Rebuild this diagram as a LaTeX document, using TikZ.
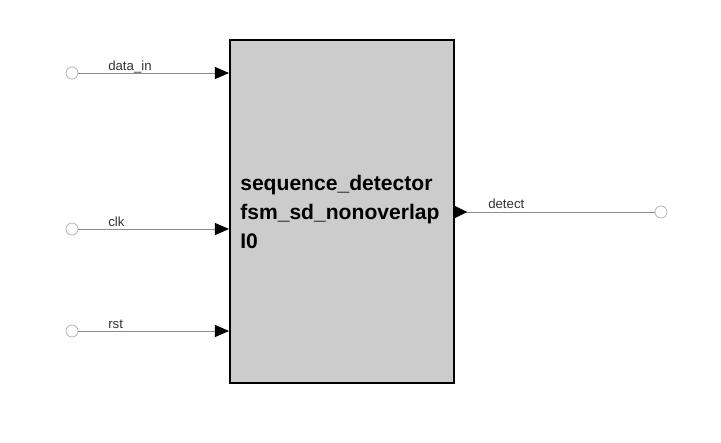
\documentclass[tikz,border=0pt]{standalone}
\usepackage{fontspec}
\setmainfont{Liberation Sans}
\usetikzlibrary{positioning, arrows.meta, calc}
\definecolor{blockgray}{RGB}{204,204,204}
\definecolor{wiregray}{RGB}{140,140,140}
\definecolor{dotgray}{RGB}{185,185,185}
\tikzset{
    blockbox/.style={rectangle, draw=black, fill=blockgray, minimum width=5.6cm, minimum height=8.575cm, line width=1.4pt, inner sep=0pt},
    blocktext/.style={align=left, font=\fontsize{15}{20.8}\selectfont\bfseries, anchor=west, inner sep=0pt},
    portdot/.style={circle, draw=dotgray, fill=white, minimum size=0.3cm, inner sep=0pt, line width=0.6pt},
    pinlbl/.style={font=\fontsize{9.4}{11}\selectfont, text=black!80, anchor=base west, inner sep=0pt},
    wire/.style={draw=wiregray, line width=0.6pt},
    inarr/.style={wire, -{Triangle[length=0.35cm, width=0.3cm, color=black]}},
    outarr/.style={wire, {Triangle[reversed, length=0.3cm, width=0.3cm, color=black]}-}
}
\begin{document}
\begin{tikzpicture}[x=0.025cm, y=-0.025cm]
    \useasboundingbox (0,0) rectangle (721,442);
    \node[blockbox] (fsm) at (342,211.5) {};
    \node[blocktext] (fsmtxt) at (240,212) {sequence\_detector\\fsm\_sd\_nonoverlap\\I0};

    % inputs
    \node[portdot] (pdata) at (72,73) {};
    \node[portdot] (pclk) at (72,229) {};
    \node[portdot] (prst) at (72,331) {};
    \node[pinlbl] (ldata) at (108,70) {data\_in};
    \node[pinlbl] (lclk) at (108,226) {clk};
    \node[pinlbl] (lrst) at (108,328) {rst};

    % output
    \node[portdot] (pdet) at (661,212) {};
    \node[pinlbl] (ldet) at (488,208) {detect};

    \draw[inarr] (pdata) -- (pdata -| fsm.west);
    \draw[inarr] (pclk) -- (pclk -| fsm.west);
    \draw[inarr] (prst) -- (prst -| fsm.west);
    \draw[outarr] (pdet -| fsm.east) -- (pdet);
\end{tikzpicture}
\end{document}
